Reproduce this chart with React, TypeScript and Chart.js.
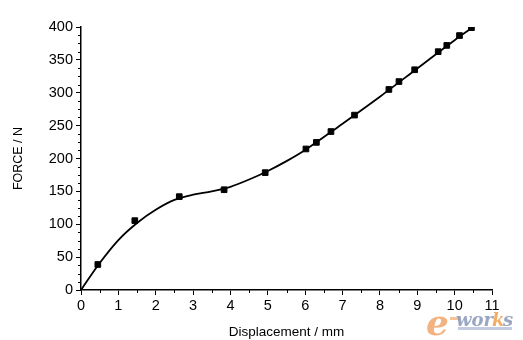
import React, { useEffect, useRef } from "react";
import { Chart, registerables } from "chart.js";

Chart.register(...registerables);

const pointX = [0.45, 1.44, 2.63, 3.83, 4.93, 6.02, 6.3, 6.69, 7.32, 8.24, 8.51, 8.93, 9.56, 9.79, 10.13, 10.45];
const pointY = [38.8, 105.5, 142, 152.5, 178.5, 214.5, 224.5, 241, 266, 305, 317, 335, 362.5, 372, 387, 399];

const curveX = [0, 0.5, 1, 1.5, 2, 2.5, 3, 3.5, 4, 4.5, 5, 5.5, 6, 7, 8, 9, 10, 10.5];
const curveY = [0, 41, 76, 102, 122, 137, 145, 150, 157, 168, 181, 196, 213, 253, 294, 337, 380, 400];

const xTicks = [0, 1, 2, 3, 4, 5, 6, 7, 8, 9, 10, 11];
const yTicks = [0, 50, 100, 150, 200, 250, 300, 350, 400];
const xMinor = [0.5, 1.5, 2.5, 3.5, 4.5, 5.5, 6.5, 7.5, 8.5, 9.5, 10.5];
const yMinor = [12.5, 25, 37.5, 62.5, 75, 87.5, 112.5, 125, 137.5, 162.5, 175, 187.5, 212.5, 225, 237.5, 262.5, 275, 287.5, 312.5, 325, 337.5, 362.5, 375, 387.5];

const xTitle = "Displacement / mm";
const yTitle = "FORCE / N";

const FONT = "'Liberation Sans', Arial, sans-serif";

const minorTicks = {
  id: "minorTicks",
  afterDraw(chart: any) {
    const ctx = chart.ctx;
    const xs = chart.scales.x;
    const ys = chart.scales.y;
    ctx.save();
    ctx.strokeStyle = "#000";
    ctx.lineWidth = 1;
    const yb = ys.getPixelForValue(0);
    xMinor.forEach((v) => {
      const px = Math.round(xs.getPixelForValue(v)) + 0.5;
      ctx.beginPath();
      ctx.moveTo(px, yb);
      ctx.lineTo(px, yb + 3);
      ctx.stroke();
    });
    const xl = xs.getPixelForValue(0);
    yMinor.forEach((v) => {
      const py = Math.round(ys.getPixelForValue(v)) + 0.5;
      ctx.beginPath();
      ctx.moveTo(xl, py);
      ctx.lineTo(xl - 3, py);
      ctx.stroke();
    });
    ctx.restore();
  },
};

const watermark = {
  id: "watermark",
  afterDraw(chart: any) {
    const ctx = chart.ctx;
    ctx.save();
    ctx.globalAlpha = 0.85;
    ctx.fillStyle = "#f2a46a";
    ctx.font = "italic bold 36px 'DejaVu Serif', serif";
    ctx.textBaseline = "alphabetic";
    ctx.fillText("e", 426, 335);
    ctx.fillStyle = "#f5b98a";
    ctx.fillRect(450, 317, 10, 3);
    ctx.fillStyle = "#8a97b8";
    ctx.font = "italic bold 18px 'DejaVu Serif', serif";
    ctx.fillText("wor", 456, 326);
    ctx.fillStyle = "#f0a04a";
    ctx.fillText("k", 492, 326);
    ctx.fillStyle = "#8a97b8";
    ctx.fillText("s", 503, 326);
    ctx.fillStyle = "#b7c2db";
    ctx.fillRect(458, 327, 54, 3);
    ctx.restore();
  },
};

export default function App() {
  const ref = useRef<HTMLCanvasElement>(null);
  useEffect(() => {
    if (!ref.current) return;
    const chart = new Chart(ref.current, {
      type: "scatter",
      data: {
        datasets: [
          {
            label: "fit",
            data: curveX.map((x, i) => ({ x, y: curveY[i] })),
            showLine: true,
            borderColor: "#000",
            borderWidth: 1.8,
            pointRadius: 0,
            tension: 0.4,
            cubicInterpolationMode: "monotone",
            fill: false,
          } as any,
          {
            label: "data",
            data: pointX.map((x, i) => ({ x, y: pointY[i] })),
            showLine: false,
            pointStyle: "rect",
            pointRadius: 4,
            backgroundColor: "#000",
            borderColor: "#000",
            borderWidth: 1,
          },
        ],
      },
      options: {
        animation: false,
        responsive: false,
        maintainAspectRatio: false,
        layout: { padding: { left: 0, top: 27, right: 31, bottom: 0 } },
        plugins: { legend: { display: false }, tooltip: { enabled: false } },
        scales: {
          x: {
            type: "linear",
            min: 0,
            max: 11,
            afterBuildTicks: (s: any) => {
              s.ticks = xTicks.map((v) => ({ value: v }));
            },
            afterFit: (s: any) => {
              s.height = 50;
            },
            ticks: { color: "#000", font: { family: FONT, size: 14.5 }, padding: 2, maxRotation: 0, autoSkip: false },
            grid: { drawOnChartArea: false, color: "#000", tickLength: 5, lineWidth: 1 },
            border: { color: "#000", width: 1.5 },
            title: { display: true, text: xTitle, color: "#000", font: { family: FONT, size: 13.5 }, padding: { top: 0, bottom: 0 } },
          },
          y: {
            type: "linear",
            min: 0,
            max: 400,
            afterBuildTicks: (s: any) => {
              s.ticks = yTicks.map((v) => ({ value: v }));
            },
            afterFit: (s: any) => {
              s.width = 81;
            },
            ticks: { color: "#000", font: { family: FONT, size: 14.5 }, padding: 3, autoSkip: false },
            grid: { drawOnChartArea: false, color: "#000", tickLength: 5, lineWidth: 1 },
            border: { color: "#000", width: 1.5 },
            title: { display: true, text: yTitle, color: "#000", font: { family: FONT, size: 12.5 }, padding: { top: 11, bottom: 0 } },
          },
        },
      },
      plugins: [minorTicks, watermark],
    });
    return () => chart.destroy();
  }, []);
  return (
    <div style={{ position: "fixed", left: 0, top: 0, width: 523, height: 340, background: "#fff" }}>
      <canvas ref={ref} width={523} height={340} style={{ display: "block", width: 523, height: 340 }} />
    </div>
  );
}
